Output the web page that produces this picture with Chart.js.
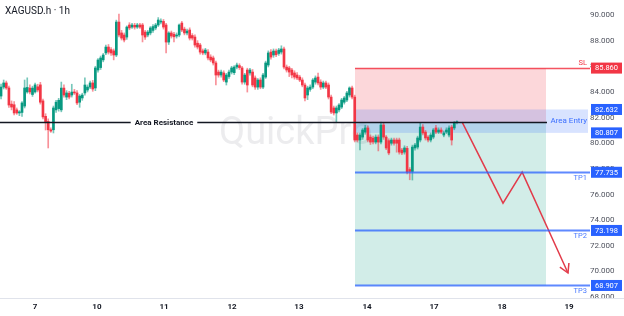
<!DOCTYPE html>
<html>
<head>
<meta charset="utf-8">
<script src="https://cdn.jsdelivr.net/npm/chart.js@4.4.1/dist/chart.umd.min.js"></script>
<style>
html, body { margin: 0; padding: 0; background: #fff; }
#wrap { width: 624px; height: 316px; }
</style>
</head>
<body>
<div id="wrap"><canvas id="chart" width="624" height="316"></canvas></div>
<script>
// day labels on the time axis, and the candle index where each day starts
const dayLabels = ['7', '10', '11', '12', '13', '14', '17', '18', '19'];
const dayStart = [13, 36.6, 62.2, 88.2, 113.7, 139.7, 165.3, 191.2, 216.8];
const priceTicks = [68, 70, 72, 74, 76, 78, 80, 82, 84, 86, 88, 90];

// XAGUSD.h 1h candles
const opens = [83.68,84.38,84.70,84.31,83.05,83.00,82.60,82.36,82.40,82.90,84.00,
  84.30,83.80,84.00,84.40,84.55,83.30,82.10,81.70,81.05,81.05,82.60,
  82.70,82.60,84.30,83.60,83.90,83.76,83.99,83.92,83.20,83.53,83.92,
  84.15,84.38,84.70,84.31,85.71,85.90,86.50,87.04,87.50,87.30,
  87.20,86.88,89.45,88.60,88.44,88.28,89.22,89.06,89.20,89.06,
  89.22,89.22,88.67,88.44,88.60,88.80,88.99,89.22,89.45,89.50,
  89.22,87.89,88.60,88.50,88.36,88.44,89.37,88.90,88.60,88.83,
  88.40,88.28,87.80,87.66,87.20,87.04,87.11,86.72,86.65,86.26,
  85.55,85.32,85.48,84.77,85.20,85.55,85.50,85.94,86.05,85.87,
  84.77,85.71,85.48,85.55,85.09,84.38,84.93,84.38,85.16,86.10,
  87.11,86.88,87.19,87.00,87.11,87.35,85.94,85.87,85.71,85.48,
  85.32,85.16,84.93,84.54,83.76,84.20,84.38,84.77,85.16,84.77,
  84.38,84.70,84.54,83.60,82.75,82.36,82.60,82.82,83.20,83.37,
  83.76,84.31,83.60,80.64,80.25,80.48,80.87,81.19,80.48,80.40,
  80.09,80.48,80.09,81.42,80.48,80.20,80.00,80.25,80.25,80.25,
  79.47,79.31,79.60,77.95,77.80,79.63,79.70,80.25,81.26,80.87,
  80.48,80.25,80.48,81.19,80.87,81.03,80.64,80.87,80.64,81.26,
  81.19,81.60];
const highs = [84.62,84.93,84.85,84.45,83.30,83.25,82.75,82.55,83.25,84.93,85.10,
  84.55,84.45,84.70,84.60,84.75,83.45,82.30,81.90,81.20,82.90,83.35,
  83.50,84.77,84.55,84.10,84.05,84.60,84.20,84.10,83.80,83.90,85.10,
  84.55,84.85,84.90,86.00,86.60,86.80,87.00,87.65,87.70,87.45,
  87.35,89.60,90.08,88.80,88.60,89.15,89.40,89.35,89.35,89.35,
  89.35,89.35,88.80,88.80,89.10,89.25,89.35,89.80,89.70,89.65,
  89.35,88.70,88.75,88.65,88.60,89.30,89.50,89.05,88.90,89.00,
  88.55,88.45,88.00,87.80,87.35,87.40,87.30,86.90,86.80,86.40,
  85.70,85.70,85.65,85.45,85.70,86.00,86.05,86.25,86.20,86.00,
  85.45,85.85,85.85,85.75,85.25,85.05,85.10,85.45,86.40,87.20,
  87.30,87.35,87.35,87.40,87.60,87.50,86.10,86.00,85.85,85.65,
  85.50,85.30,85.10,84.70,84.45,84.55,85.05,85.25,85.48,84.95,
  84.85,84.85,84.70,83.75,82.90,82.90,83.10,83.50,83.65,84.05,
  84.40,84.45,83.75,80.80,80.80,81.15,81.40,81.35,80.65,80.55,
  80.65,80.65,81.65,81.55,80.60,80.35,80.40,80.40,80.40,80.40,
  79.60,79.80,79.75,78.10,79.85,80.00,80.55,81.58,81.45,81.00,
  80.60,80.80,81.15,81.40,81.20,81.20,80.95,81.20,81.35,81.40,
  81.70,81.75];
const lows = [83.45,84.23,84.20,82.80,82.60,82.20,82.25,82.15,82.10,82.75,83.90,
  83.85,83.65,83.90,84.00,83.05,81.90,81.03,79.63,80.85,80.80,82.40,
  82.50,82.45,83.60,83.40,83.45,83.60,83.80,83.00,82.80,83.35,83.75,
  84.00,84.25,84.05,84.10,85.55,85.75,86.35,86.90,86.95,86.85,
  86.50,86.75,88.30,88.05,87.90,88.10,88.85,88.95,88.90,88.95,
  88.95,87.90,88.10,88.30,88.45,88.65,88.85,89.10,89.30,88.90,
  87.04,87.70,88.20,87.90,88.20,88.30,88.70,88.45,88.45,88.05,
  88.05,87.50,87.35,86.95,86.90,86.90,86.50,86.35,86.10,84.54,
  85.15,85.15,84.80,84.54,85.05,85.40,85.35,85.80,85.75,84.60,
  84.60,83.99,85.30,84.40,84.20,84.20,84.25,84.25,85.05,85.95,
  86.55,86.70,86.75,86.85,86.95,85.80,85.55,85.20,85.10,85.00,
  84.95,84.80,84.40,83.30,83.40,84.05,84.25,84.60,84.55,84.20,
  84.25,84.25,83.45,82.30,82.20,81.65,82.45,82.70,83.05,83.25,
  83.60,83.45,80.10,80.10,79.47,80.30,80.70,80.10,79.90,79.95,
  79.95,79.40,79.95,80.30,79.50,79.10,79.85,79.85,79.30,79.15,
  79.10,79.15,77.60,77.15,77.13,79.45,79.55,80.10,80.65,80.25,
  80.10,80.10,80.35,80.75,80.75,80.75,80.50,80.75,80.50,79.86,
  81.05,81.50];
const closes = [84.38,84.70,84.31,82.98,82.82,82.36,82.36,82.45,83.14,84.31,84.35,
  84.00,84.30,84.55,84.15,83.20,82.05,81.60,81.05,80.95,82.75,83.20,
  83.35,84.30,83.76,83.92,83.60,83.99,83.92,83.14,83.68,83.76,84.54,
  84.38,84.70,84.23,85.87,86.49,86.65,86.88,87.50,87.11,87.04,
  86.88,89.45,88.44,88.20,88.05,89.06,88.99,89.22,89.06,89.22,
  89.06,88.44,88.28,88.67,88.99,89.10,89.22,89.61,89.53,89.06,
  87.89,88.60,88.36,88.30,88.44,89.22,88.83,88.60,88.75,88.20,
  88.20,87.66,87.50,87.11,87.04,87.27,86.65,86.49,86.26,85.32,
  85.32,85.55,84.93,85.32,85.55,85.87,85.94,86.10,85.90,84.77,
  85.32,84.54,85.71,84.54,84.38,84.93,84.38,85.32,86.26,87.04,
  86.72,87.19,86.90,87.27,87.35,85.94,85.71,85.55,85.32,85.16,
  85.09,84.93,84.54,83.53,84.31,84.38,84.93,85.09,84.70,84.38,
  84.70,84.38,83.60,82.43,82.36,82.75,82.98,83.37,83.53,83.92,
  84.31,83.60,80.25,80.25,80.64,81.03,81.19,80.25,80.09,80.10,
  80.48,80.09,81.42,80.48,79.63,79.24,80.25,80.00,80.00,79.31,
  79.24,79.63,77.75,77.80,79.70,79.86,80.41,81.26,80.80,80.41,
  80.25,80.64,81.03,80.87,81.03,80.87,80.80,81.03,81.19,80.25,
  81.58,81.65];

// trade setup
const levelNames = ['SL', 'Entry top', 'Entry bottom', 'TP1', 'TP2', 'TP3'];
const levelValues = [85.860, 82.632, 80.807, 77.735, 73.198, 68.907];
const resistance = 81.65;
const setupStart = 135.1;   // candle index where the setup boxes begin
const setupEnd = 208;
const forecastX = [176, 191.6, 198.9, 216.4];
const forecastY = [81.65, 75.33, 77.74, 69.88];

const GREEN = '#089981';
const RED = '#f23645';
const BLUE = '#2962ff';

function isUp(i) { return closes[i] >= opens[i]; }

const bodies = opens.map((o, i) => ({ x: i, y: [o, closes[i]] }));
const wicks = highs.map((h, i) => ({ x: i, y: [lows[i], h] }));
const forecast = forecastX.map((v, i) => ({ x: v, y: forecastY[i] }));

const setupPlugin = {
  id: 'setup',
  beforeDraw(chart) {
    const ctx = chart.ctx;
    ctx.save();
    ctx.fillStyle = '#ffffff';
    ctx.fillRect(0, 0, chart.width, chart.height);
    // watermark
    ctx.font = '38px Roboto';
    ctx.fillStyle = 'rgba(120,123,134,0.14)';
    ctx.textBaseline = 'alphabetic';
    ctx.fillText('QuickPro', 219, 144);
    ctx.restore();
  },
  beforeDatasetsDraw(chart) {
    const { ctx, chartArea, scales: { x, y } } = chart;
    const x0 = x.getPixelForValue(setupStart);
    const x1 = x.getPixelForValue(setupEnd);
    const ySL = y.getPixelForValue(levelValues[0]);
    const yEn = y.getPixelForValue(resistance);
    const yTP3 = y.getPixelForValue(levelValues[5]);
    ctx.save();
    ctx.fillStyle = 'rgba(242,54,69,0.2)';
    ctx.fillRect(x0, ySL, x1 - x0, yEn - ySL);
    ctx.fillStyle = 'rgba(8,153,129,0.18)';
    ctx.fillRect(x0, yEn, x1 - x0, yTP3 - yEn);
    const yA = y.getPixelForValue(levelValues[1]);
    const yB = y.getPixelForValue(levelValues[2]);
    ctx.fillStyle = 'rgba(41,98,255,0.18)';
    ctx.fillRect(x0, yA, chartArea.right - 2 - x0, yB - yA);
    ctx.restore();
  },
  afterDatasetsDraw(chart) {
    const { ctx, chartArea, scales: { x, y } } = chart;
    const x0 = x.getPixelForValue(setupStart);
    const xr = chartArea.right;
    ctx.save();
    // SL and TP lines
    levelValues.forEach((v, i) => {
      if (i === 1 || i === 2) return;
      const py = Math.round(y.getPixelForValue(v)) + 0.5;
      ctx.beginPath();
      ctx.moveTo(x0, py);
      ctx.lineTo(xr, py);
      if (i === 0) { ctx.strokeStyle = 'rgba(242,54,69,0.85)'; ctx.lineWidth = 1.5; }
      else { ctx.strokeStyle = 'rgba(41,98,255,0.75)'; ctx.lineWidth = 2; }
      ctx.stroke();
      ctx.font = '7.5px Roboto';
      ctx.textAlign = 'right';
      if (i === 0) {
        ctx.fillStyle = RED;
        ctx.textBaseline = 'bottom';
        ctx.fillText(levelNames[i], xr - 3, py - 2);
      } else {
        ctx.fillStyle = 'rgba(41,98,255,0.85)';
        ctx.textBaseline = 'top';
        ctx.fillText(levelNames[i], xr - 3, py + 2);
      }
    });
    // entry label
    const yMid = (y.getPixelForValue(levelValues[1]) + y.getPixelForValue(levelValues[2])) / 2;
    ctx.font = '8px Roboto';
    ctx.fillStyle = 'rgba(41,98,255,0.9)';
    ctx.textAlign = 'right';
    ctx.textBaseline = 'middle';
    ctx.fillText('Area Entry', xr - 3, yMid);

    // resistance line
    const pr = Math.round(y.getPixelForValue(resistance)) + 0.5;
    const xEnd = x.getPixelForValue(setupEnd) + 1;
    ctx.beginPath();
    ctx.moveTo(chartArea.left, pr);
    ctx.lineTo(xEnd, pr);
    ctx.strokeStyle = '#131722';
    ctx.lineWidth = 1.5;
    ctx.stroke();
    ctx.font = 'bold 8px Roboto';
    const label = 'Area Resistance';
    const tw = ctx.measureText(label).width;
    const cx = 164;
    ctx.fillStyle = '#ffffff';
    ctx.fillRect(cx - tw / 2 - 4, pr - 5, tw + 8, 10);
    ctx.fillStyle = '#131722';
    ctx.textAlign = 'center';
    ctx.textBaseline = 'middle';
    ctx.fillText(label, cx, pr + 0.5);

    // arrow head on the forecast path
    const n = forecastX.length;
    const tx = x.getPixelForValue(forecastX[n - 1]);
    const ty = y.getPixelForValue(forecastY[n - 1]);
    const sx = x.getPixelForValue(forecastX[n - 2]);
    const sy = y.getPixelForValue(forecastY[n - 2]);
    const ang = Math.atan2(sy - ty, sx - tx);
    ctx.beginPath();
    ctx.moveTo(tx + 10 * Math.cos(ang + 0.52), ty + 10 * Math.sin(ang + 0.52));
    ctx.lineTo(tx, ty);
    ctx.lineTo(tx + 10 * Math.cos(ang - 0.52), ty + 10 * Math.sin(ang - 0.52));
    ctx.strokeStyle = '#e23b4a';
    ctx.lineWidth = 1.5;
    ctx.stroke();
    ctx.restore();
  },
  afterDraw(chart) {
    const { ctx, chartArea, scales: { y } } = chart;
    ctx.save();
    // bottom border of the plot
    ctx.strokeStyle = '#e0e3eb';
    ctx.lineWidth = 1;
    ctx.beginPath();
    ctx.moveTo(0, chartArea.bottom + 0.5);
    ctx.lineTo(chart.width, chartArea.bottom + 0.5);
    ctx.stroke();
    // price tags
    ctx.font = '7.5px Roboto';
    ctx.textAlign = 'center';
    ctx.textBaseline = 'middle';
    levelValues.forEach((v, i) => {
      const py = y.getPixelForValue(v);
      ctx.fillStyle = i === 0 ? RED : BLUE;
      ctx.fillRect(chartArea.right + 1, py - 5.5, 31, 11);
      ctx.fillStyle = '#ffffff';
      ctx.fillText(v.toFixed(3), chartArea.right + 16.5, py + 0.5);
    });
    // title
    ctx.font = '10px Roboto';
    ctx.fillStyle = '#131722';
    ctx.textAlign = 'left';
    ctx.textBaseline = 'alphabetic';
    ctx.fillText('XAGUSD.h · 1h', 5, 14);
    ctx.restore();
  }
};

const ctx = document.getElementById('chart').getContext('2d');
const chart = new Chart(ctx, {
  type: 'bar',
  data: {
    datasets: [
      {
        type: 'line',
        data: forecast,
        borderColor: '#e23b4a',
        borderWidth: 1.5,
        pointRadius: 0,
        tension: 0,
        order: 0
      },
      {
        data: bodies,
        backgroundColor: c => isUp(c.dataIndex) ? GREEN : RED,
        barThickness: 2,
        minBarLength: 1,
        grouped: false,
        order: 1
      },
      {
        data: wicks,
        backgroundColor: c => isUp(c.dataIndex) ? 'rgba(8,153,129,0.55)' : 'rgba(242,54,69,0.55)',
        barThickness: 1,
        grouped: false,
        order: 2
      }
    ]
  },
  options: {
    responsive: false,
    animation: false,
    layout: { padding: 0 },
    scales: {
      x: {
        type: 'linear',
        offset: false,
        min: -0.4,
        max: 224.8,
        grid: { display: false, drawTicks: false },
        border: { display: false },
        afterBuildTicks: s => { s.ticks = dayStart.map(v => ({ value: v })); },
        afterFit: s => { s.height = 18; s.paddingLeft = 0; s.paddingRight = 0; },
        ticks: {
          autoSkip: false,
          maxRotation: 0,
          padding: 4,
          color: '#131722',
          font: { family: 'Roboto', size: 8, weight: 'bold' },
          callback: (v, i) => dayLabels[i]
        }
      },
      y: {
        type: 'linear',
        position: 'right',
        min: 67.93,
        max: 91.17,
        grid: { display: false, drawTicks: false },
        border: { display: false },
        afterBuildTicks: s => { s.ticks = priceTicks.map(v => ({ value: v })); },
        afterFit: s => { s.width = 34; s.paddingTop = 0; s.paddingBottom = 0; },
        ticks: {
          padding: 0,
          crossAlign: 'center',
          color: '#50535e',
          font: { family: 'Roboto', size: 8 },
          callback: v => v.toFixed(3)
        }
      }
    },
    plugins: {
      legend: { display: false },
      tooltip: { enabled: false }
    }
  },
  plugins: [setupPlugin]
});
</script>
</body>
</html>
